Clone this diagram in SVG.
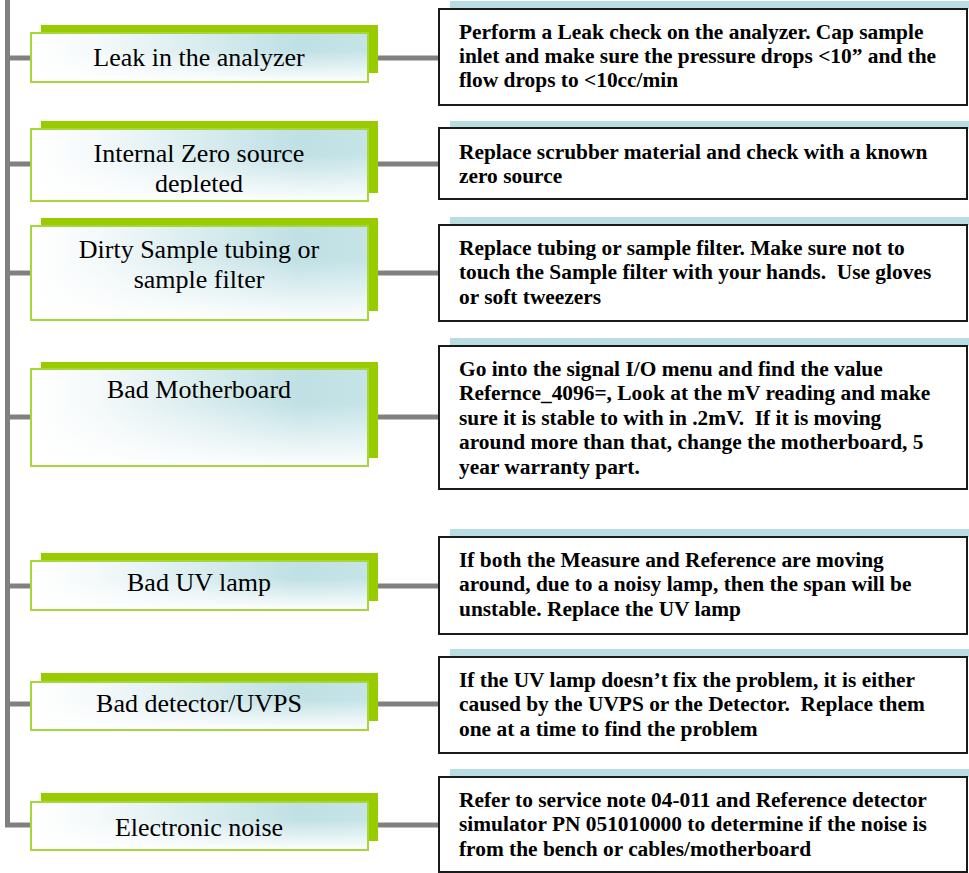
<svg xmlns="http://www.w3.org/2000/svg" width="969" height="873" viewBox="0 0 969 873">
  <style>
    .link { fill: none; stroke: #808080; stroke-width: 5; }
    .cause-shadow { fill: #99CC00; }
    .cause-box { fill: url(#causeFill); stroke: #A6D63C; stroke-width: 2; }
    .cause-fade { fill: url(#causeFade); }
    .cause-text { font-family: "Liberation Serif", "Times New Roman", serif; font-size: 26px; fill: #000; text-anchor: middle; }
    .fix-strip { fill: #B8DEE2; }
    .fix-box { fill: #FFFFFF; stroke: #1A1A1A; stroke-width: 2; }
    .fix-text { font-family: "Liberation Serif", "Times New Roman", serif; font-size: 21.4px; font-weight: bold; fill: #000; white-space: pre; }
  </style>
  <defs>
    <linearGradient id="causeFill" x1="0" y1="0" x2="1" y2="0">
      <stop offset="0" stop-color="#FFFFFF"/>
      <stop offset="0.2" stop-color="#F4F9FA"/>
      <stop offset="0.8" stop-color="#BFE0E4"/>
      <stop offset="1" stop-color="#C6E4E7"/>
    </linearGradient>
    <linearGradient id="causeFade" x1="0" y1="0" x2="0" y2="1">
      <stop offset="0.35" stop-color="#FFFFFF" stop-opacity="0"/>
      <stop offset="1" stop-color="#FFFFFF" stop-opacity="0.95"/>
    </linearGradient>
    <clipPath id="clipZero">
      <rect x="30" y="121" width="340" height="72"/>
    </clipPath>
  </defs>

  <!-- connectors: trunk on the left, branches to causes, links to remedies -->
  <g id="connectors">
    <path class="link" d="M7.5 0 V825 H31"/>
    <line class="link" x1="7.5" y1="58" x2="31" y2="58"/>
    <line class="link" x1="7.5" y1="164" x2="31" y2="164"/>
    <line class="link" x1="7.5" y1="273" x2="31" y2="273"/>
    <line class="link" x1="7.5" y1="417" x2="31" y2="417"/>
    <line class="link" x1="7.5" y1="586" x2="31" y2="586"/>
    <line class="link" x1="7.5" y1="704" x2="31" y2="704"/>
    <line class="link" x1="377" y1="58" x2="439" y2="58"/>
    <line class="link" x1="377" y1="164" x2="439" y2="164"/>
    <line class="link" x1="377" y1="273" x2="439" y2="273"/>
    <line class="link" x1="377" y1="417" x2="439" y2="417"/>
    <line class="link" x1="377" y1="586" x2="439" y2="586"/>
    <line class="link" x1="377" y1="704" x2="439" y2="704"/>
    <line class="link" x1="377" y1="825" x2="439" y2="825"/>
  </g>

  <!-- cause boxes -->
  <g id="cause-leak">
    <rect class="cause-shadow" x="41" y="25" width="337" height="48"/>
    <rect class="cause-box" x="31" y="33" width="337" height="49"/>
    <rect class="cause-fade" x="32" y="34" width="335" height="47"/>
    <text class="cause-text" x="199" y="66">Leak in the analyzer</text>
  </g>
  <g id="cause-zero">
    <rect class="cause-shadow" x="41" y="121" width="337" height="72"/>
    <rect class="cause-box" x="31" y="129" width="337" height="72"/>
    <rect class="cause-fade" x="32" y="130" width="335" height="70"/>
    <g clip-path="url(#clipZero)">
      <text class="cause-text" x="199" y="162">Internal Zero source</text>
      <text class="cause-text" x="199" y="192">depleted</text>
    </g>
  </g>
  <g id="cause-tubing">
    <rect class="cause-shadow" x="41" y="218" width="337" height="93"/>
    <rect class="cause-box" x="31" y="226" width="337" height="94"/>
    <rect class="cause-fade" x="32" y="227" width="335" height="92"/>
    <text class="cause-text" x="199" y="258">Dirty Sample tubing or</text>
    <text class="cause-text" x="199" y="288">sample filter</text>
  </g>
  <g id="cause-motherboard">
    <rect class="cause-shadow" x="41" y="362" width="337" height="96"/>
    <rect class="cause-box" x="31" y="369" width="337" height="97"/>
    <rect class="cause-fade" x="32" y="370" width="335" height="95"/>
    <text class="cause-text" x="199" y="398">Bad Motherboard</text>
  </g>
  <g id="cause-lamp">
    <rect class="cause-shadow" x="41" y="553" width="337" height="48"/>
    <rect class="cause-box" x="31" y="561" width="337" height="49"/>
    <rect class="cause-fade" x="32" y="562" width="335" height="47"/>
    <text class="cause-text" x="199" y="591">Bad UV lamp</text>
  </g>
  <g id="cause-detector">
    <rect class="cause-shadow" x="41" y="673" width="337" height="48"/>
    <rect class="cause-box" x="31" y="682" width="337" height="48"/>
    <rect class="cause-fade" x="32" y="683" width="335" height="46"/>
    <text class="cause-text" x="199" y="712">Bad detector/UVPS</text>
  </g>
  <g id="cause-noise">
    <rect class="cause-shadow" x="41" y="793" width="337" height="48"/>
    <rect class="cause-box" x="31" y="802" width="337" height="48"/>
    <rect class="cause-fade" x="32" y="803" width="335" height="46"/>
    <text class="cause-text" x="199" y="836">Electronic noise</text>
  </g>

  <!-- remedy boxes -->
  <g id="fix-leak">
    <rect class="fix-strip" x="450" y="1" width="519" height="8"/>
    <rect class="fix-box" x="439" y="9" width="528" height="96"/>
    <text class="fix-text" x="459" y="39">Perform a Leak check on the analyzer. Cap sample</text>
    <text class="fix-text" x="459" y="63">inlet and make sure the pressure drops &lt;10” and the</text>
    <text class="fix-text" x="459" y="87">flow drops to &lt;10cc/min</text>
  </g>
  <g id="fix-zero">
    <rect class="fix-strip" x="450" y="121" width="519" height="8"/>
    <rect class="fix-box" x="439" y="128" width="528" height="71"/>
    <text class="fix-text" x="459" y="159">Replace scrubber material and check with a known</text>
    <text class="fix-text" x="459" y="183">zero source</text>
  </g>
  <g id="fix-tubing">
    <rect class="fix-strip" x="450" y="217" width="519" height="8"/>
    <rect class="fix-box" x="439" y="225" width="528" height="96"/>
    <text class="fix-text" x="459" y="255">Replace tubing or sample filter. Make sure not to</text>
    <text class="fix-text" x="459" y="279">touch the Sample filter with your hands.  Use gloves</text>
    <text class="fix-text" x="459" y="304">or soft tweezers</text>
  </g>
  <g id="fix-motherboard">
    <rect class="fix-strip" x="450" y="338" width="519" height="8"/>
    <rect class="fix-box" x="439" y="346" width="528" height="143"/>
    <text class="fix-text" x="459" y="376">Go into the signal I/O menu and find the value</text>
    <text class="fix-text" x="459" y="400">Refernce_4096=, Look at the mV reading and make</text>
    <text class="fix-text" x="459" y="425">sure it is stable to with in .2mV.  If it is moving</text>
    <text class="fix-text" x="459" y="449">around more than that, change the motherboard, 5</text>
    <text class="fix-text" x="459" y="474">year warranty part.</text>
  </g>
  <g id="fix-lamp">
    <rect class="fix-strip" x="450" y="529" width="519" height="8"/>
    <rect class="fix-box" x="439" y="537" width="528" height="97"/>
    <text class="fix-text" x="459" y="567">If both the Measure and Reference are moving</text>
    <text class="fix-text" x="459" y="591">around, due to a noisy lamp, then the span will be</text>
    <text class="fix-text" x="459" y="616">unstable. Replace the UV lamp</text>
  </g>
  <g id="fix-detector">
    <rect class="fix-strip" x="450" y="649" width="519" height="8"/>
    <rect class="fix-box" x="439" y="657" width="528" height="96"/>
    <text class="fix-text" x="459" y="687">If the UV lamp doesn’t fix the problem, it is either</text>
    <text class="fix-text" x="459" y="711">caused by the UVPS or the Detector.  Replace them</text>
    <text class="fix-text" x="459" y="736">one at a time to find the problem</text>
  </g>
  <g id="fix-noise">
    <rect class="fix-strip" x="450" y="769" width="519" height="8"/>
    <rect class="fix-box" x="439" y="777" width="528" height="95"/>
    <text class="fix-text" x="459" y="807">Refer to service note 04-011 and Reference detector</text>
    <text class="fix-text" x="459" y="831">simulator PN 051010000 to determine if the noise is</text>
    <text class="fix-text" x="459" y="856">from the bench or cables/motherboard</text>
  </g>
</svg>
